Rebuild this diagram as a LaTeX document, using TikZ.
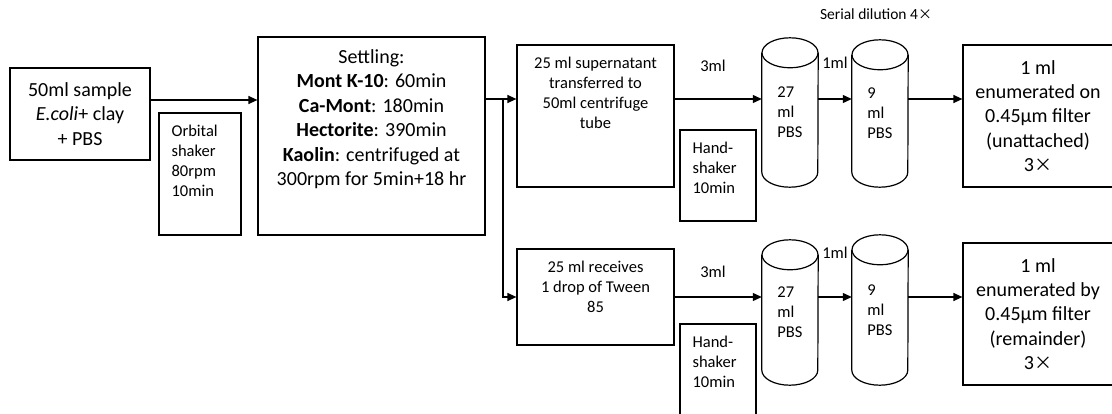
\documentclass[tikz,border=0pt]{standalone}
\usepackage{fontspec}
\setmainfont{Carlito}
\newfontfamily\cjk{Noto Sans CJK SC}
\usetikzlibrary{arrows.meta, positioning}

\begin{document}
\begin{tikzpicture}[x=1pt, y=-1pt,
  box/.style={draw, line width=1.2pt, inner sep=0pt},
  bigtxt/.style={font=\fontsize{20}{24.4}\selectfont, align=center},
  smalltxt/.style={font=\fontsize{16.5}{20}\selectfont},
  toptext/.style={smalltxt, align=center, anchor=north, inner sep=0pt, yshift=-12pt},
  bigtop/.style={bigtxt, anchor=north, inner sep=0pt, yshift=-13pt},
  lefttext/.style={smalltxt, align=left, anchor=north west, inner sep=0pt, xshift=13pt, yshift=-12pt},
  tube/.style={smalltxt, align=left, inner sep=0pt, minimum width=56pt, minimum height=#1},
  line/.style={line width=1.2pt},
  arr/.style={line width=1.2pt, -{Triangle[length=9pt,width=8pt]}}]
\useasboundingbox (0,0) rectangle (1112,414);

% left part
\node[box, bigtxt, minimum width=140pt, minimum height=92pt] (sample) at (80,114) {50ml sample\\\textit{E.coli}+ clay\\+ PBS};
\node[box, minimum width=82pt, minimum height=122pt, label={[lefttext]north west:{Orbital\\shaker\\80rpm\\10min}}] (orbital) at (200,174) {};
\node[box, minimum width=227pt, minimum height=198pt, label={[bigtop]north:{Settling:\\\textbf{Mont K-10}: 60min\\\textbf{Ca-Mont}: 180min\\\textbf{Hectorite}: 390min\\\textbf{Kaolin}: centrifuged at\\300rpm for 5min+18 hr}}] (settle) at (371.5,136) {};

% upper branch
\node[box, minimum width=157pt, minimum height=142pt, label={[toptext]north:{25 ml supernatant\\transferred to\\50ml centrifuge\\tube}}] (super) at (595.5,116) {};
\node[box, minimum width=76pt, minimum height=91pt, label={[lefttext]north west:{Hand-\\shaker\\10min}}] (hand1) at (718,175.5) {};
\node[tube=149pt] (tube27) at (790,112.5) {27\\ml\\PBS};
\node[tube=147pt] (tube9) at (880,113.5) {9\\ml\\PBS};
\node[box, bigtxt, minimum width=150pt, minimum height=142pt] (count1) at (1038,116) {1 ml\\enumerated on\\0.45µm filter\\(unattached)\\3{\cjk\fontsize{18}{20}\selectfont ×}};

% lower branch
\node[box, minimum width=157pt, minimum height=96pt, label={[toptext]north:{25 ml receives\\1 drop of Tween\\85}}] (tween) at (595.5,297) {};
\node[box, minimum width=76pt, minimum height=106pt, label={[lefttext]north west:{Hand-\\shaker\\10min}}] (hand2) at (718,377) {};
\node[tube=145pt] (tube27b) at (790,312.5) {27\\ml\\PBS};
\node[tube=150pt] (tube9b) at (880,310) {9\\ml\\PBS};
\node[box, bigtxt, minimum width=150pt, minimum height=142pt] (count2) at (1038,314) {1 ml\\enumerated by\\0.45µm filter\\(remainder)\\3{\cjk\fontsize{18}{20}\selectfont ×}};

% tubes
\foreach \t in {tube27,tube9,tube27b,tube9b}{
  \draw[line] ([yshift=-15pt]\t.north west) -- ([yshift=15pt]\t.south west)
    arc[start angle=180, end angle=360, x radius=28pt, y radius=15pt]
    -- ([yshift=-15pt]\t.north east);
  \draw[line] ([yshift=-15pt]\t.north) ellipse[x radius=28pt, y radius=15pt];
}

% labels
\node[font=\fontsize{15.5}{18}\selectfont] (serial) at (876,14) {Serial dilution 4{\cjk\fontsize{14}{16}\selectfont ×}};
\node[smalltxt] (ml3a) at (713,66) {3ml};
\node[smalltxt] (ml1a) at (835,63) {1ml};
\node[smalltxt] (ml3b) at (713,272) {3ml};
\node[smalltxt] (ml1b) at (835,253) {1ml};

% connectors
\coordinate (split) at (503,99);
\draw[arr] ([yshift=14pt]sample.east) -- ([yshift=14pt]sample.east -| settle.west);
\draw[line] (settle.east |- split) -- (split);
\draw[arr] (split) -- (split -| super.west);
\draw[arr] (split) |- (tween.west);
\draw[arr] (super.east |- split) -- (split -| tube27.west);
\draw[arr] (tube27.east |- split) -- (split -| tube9.west);
\draw[arr] (tube9.east |- split) -- (split -| count1.west);
\draw[arr] (tween.east) -- (tween.east -| tube27b.west);
\draw[arr] (tube27b.east |- tween.east) -- (tween.east -| tube9b.west);
\draw[arr] (tube9b.east |- tween.east) -- (tween.east -| count2.west);
\end{tikzpicture}
\end{document}
